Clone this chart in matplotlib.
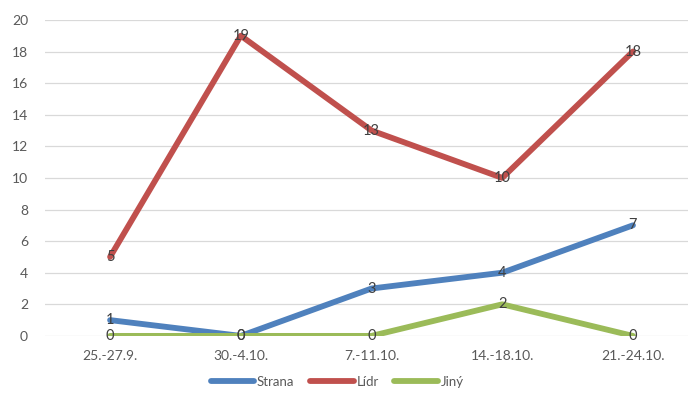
import matplotlib.pyplot as plt

categories = ['25.-27.9.', '30.-4.10.', '7.-11.10.', '14.-18.10.', '21.-24.10.']
strana = [1, 0, 3, 4, 7]
lidr = [5, 19, 13, 10, 18]
jiny = [0, 0, 0, 2, 0]

plt.rcParams['font.family'] = ['Lato', 'DejaVu Sans']

fig = plt.figure(figsize=(6.88, 3.98), dpi=100)
ax = fig.add_axes([0.065, 0.156, 0.950, 0.794])

series = [('Strana', strana, '#4F81BD'), ('Lídr', lidr, '#C0504D'), ('Jiný', jiny, '#9BBB59')]
x = list(range(len(categories)))
for name, vals, col in series:
    ax.plot(x, vals, color=col, lw=4.2, label=name, solid_capstyle='round', zorder=3)
for name, vals, col in series:
    for xi, v in zip(x, vals):
        ax.text(xi, v, str(v), ha='center', va='center', fontsize=10.5, color='#404040', zorder=5)

ax.set_xlim(-0.5, 4.5)
ax.set_ylim(0, 20)
ax.set_yticks(range(0, 21, 2))
ax.set_xticks(x)
ax.set_xticklabels(categories)
ax.grid(axis='y', color='#D9D9D9', lw=0.9)
ax.set_axisbelow(True)
for s in ax.spines.values():
    s.set_visible(False)
ax.tick_params(length=0, colors='#595959', labelsize=10)
ax.tick_params(axis='x', pad=10)
ax.tick_params(axis='y', pad=12)

fig.legend(loc='center', bbox_to_anchor=(0.49, 0.04), ncol=3, frameon=False, fontsize=9.5,
           handlelength=3.3, columnspacing=1.2, handletextpad=0.2, labelcolor='#595959')

fig.savefig('out.png')
